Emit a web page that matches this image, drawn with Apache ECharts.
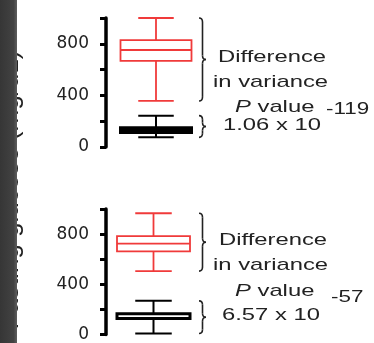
<!DOCTYPE html>
<html>
<head>
<meta charset="utf-8">
<script src="https://cdn.jsdelivr.net/npm/echarts@6/dist/echarts.min.js"></script>
<style>
html,body{margin:0;padding:0;background:#fff;}
#chart{width:374px;height:343px;}
</style>
</head>
<body>
<div id="chart"></div>
<script>
// ---- data ----
const category = ['Glucose'];
const yTicks = [0, 200, 400, 600, 800, 1000];
const yLabelsShown = [0, 400, 800];
// boxplot values: [min, Q1, median, Q3, max]
const topRed = [357, 667, 752, 829, 1000];
const topBlack = [75, 112, 132, 150, 243];
const bottomRed = [505, 662, 724, 784, 966];
const bottomBlack = [8, 127, 127, 166, 268];
const topNote = ['Difference', 'in variance', 'P value', '1.06 x 10', '-119'];
const bottomNote = ['Difference', 'in variance', 'P value', '6.57 x 10', '-57'];
const yTitle = 'Fasting glucose (mg/dL)';

const RED = '#f03a3a';
const INK = '#222';
const chart = echarts.init(document.getElementById('chart'), null, {renderer: 'canvas'});

function yAxis(gridIndex) {
  return {
    type: 'value', gridIndex: gridIndex,
    min: yTicks[0], max: yTicks[yTicks.length - 1], interval: yTicks[1] - yTicks[0],
    splitLine: {show: false},
    axisLine: {show: true, lineStyle: {color: '#000', width: 3.5}},
    axisTick: {show: true, length: 6, lineStyle: {color: '#000', width: 3}},
    axisLabel: {
      margin: 17, fontSize: 17, fontFamily: 'DejaVu Sans', color: INK,
      formatter: v => yLabelsShown.indexOf(v) >= 0 ? String(v) : ''
    }
  };
}
function xAxis(gridIndex) {
  return {type: 'category', gridIndex: gridIndex, data: category, show: false};
}
function box(vals, gi, w, color, fill, bw, wbw) {
  return {
    type: 'custom', xAxisIndex: gi, yAxisIndex: gi,
    data: [[0].concat(vals)],
    encode: {x: 0, y: [1, 2, 3, 4, 5]},
    silent: true,
    renderItem: function (params, api) {
      const x = api.coord([0, 0])[0];
      const y = [1, 2, 3, 4, 5].map(i => api.coord([0, api.value(i)])[1]);
      const h = w / 2, q = w / 4;
      const ls = {stroke: color, lineWidth: wbw};
      return {
        type: 'group',
        children: [
          {type: 'line', shape: {x1: x, y1: y[4], x2: x, y2: y[3]}, style: ls},
          {type: 'line', shape: {x1: x, y1: y[1], x2: x, y2: y[0]}, style: ls},
          {type: 'line', shape: {x1: x - q, y1: y[4], x2: x + q, y2: y[4]}, style: ls},
          {type: 'line', shape: {x1: x - q, y1: y[0], x2: x + q, y2: y[0]}, style: ls},
          {type: 'rect', shape: {x: x - h, y: y[3], width: w, height: y[1] - y[3]},
           style: {fill: fill, stroke: color, lineWidth: bw}},
          {type: 'line', shape: {x1: x - h, y1: y[2], x2: x + h, y2: y[2]}, style: {stroke: color, lineWidth: bw}}
        ]
      };
    }
  };
}

chart.setOption({
  animation: false,
  grid: [
    {left: 106, top: 18, width: 100, height: 129},
    {left: 106, top: 209, width: 95, height: 128}
  ],
  xAxis: [xAxis(0), xAxis(1)],
  yAxis: [yAxis(0), yAxis(1)],
  series: [
    box(topRed, 0, 71, RED, '#fff', 1.8, 1.8),
    box(topBlack, 0, 71, '#000', '#000', 3, 2),
    box(bottomRed, 1, 73, RED, '#fff', 1.8, 1.8),
    box(bottomBlack, 1, 73, '#000', '#fff', 3, 2)
  ]
});

const BR = {stroke: INK, lineWidth: 1.6, fill: null};
function brace(yi, lo, hi) {
  const y0 = chart.convertToPixel({yAxisIndex: yi}, hi);
  const y1 = chart.convertToPixel({yAxisIndex: yi}, lo);
  const x = 199, w = 7, xm = x + w / 2, ym = (y0 + y1) / 2;
  const r = Math.min(4, (y1 - y0) / 4);
  return {
    type: 'group', z: 10, silent: true,
    children: [
      {type: 'bezierCurve', shape: {x1: x, y1: y0, cpx1: xm, cpy1: y0, x2: xm, y2: y0 + r}, style: BR},
      {type: 'line', shape: {x1: xm, y1: y0 + r, x2: xm, y2: ym - r}, style: BR},
      {type: 'bezierCurve', shape: {x1: xm, y1: ym - r, cpx1: xm, cpy1: ym, x2: x + w, y2: ym}, style: BR},
      {type: 'bezierCurve', shape: {x1: x + w, y1: ym, cpx1: xm, cpy1: ym, x2: xm, y2: ym + r}, style: BR},
      {type: 'line', shape: {x1: xm, y1: ym + r, x2: xm, y2: y1 - r}, style: BR},
      {type: 'bezierCurve', shape: {x1: xm, y1: y1 - r, cpx1: xm, cpy1: y1, x2: x, y2: y1}, style: BR}
    ]
  };
}
const SX = 1.4;
function txt(text, x, y, size) {
  return {
    type: 'text', x: x, y: y, scaleX: SX, z: 10, silent: true,
    style: {text: text, fontSize: size, fontFamily: 'Liberation Sans', fill: INK,
            textAlign: 'left', textVerticalAlign: 'middle'}
  };
}
function pvalue(text, x, y) {
  const parts = text.split(' ');
  return {
    type: 'text', x: x, y: y, scaleX: SX, z: 10, silent: true,
    style: {
      text: '{i|' + parts[0] + '} ' + parts.slice(1).join(' '),
      fontSize: 17, fontFamily: 'Liberation Sans', fill: INK,
      textAlign: 'left', textVerticalAlign: 'middle',
      rich: {i: {fontStyle: 'italic', fontSize: 17, fontFamily: 'Liberation Sans', fill: INK}}
    }
  };
}
function note(arr, yi, red, black, ys, xs) {
  return [
    brace(yi, red[0], red[4]),
    brace(yi, black[0], black[4]),
    txt(arr[0], xs[0], ys[0], 17),
    txt(arr[1], xs[1], ys[1], 17),
    pvalue(arr[2], xs[2], ys[2]),
    txt(arr[3], xs[3], ys[3], 17),
    txt(arr[4], xs[4], ys[4], 16)
  ];
}

const graphics = []
  .concat(note(topNote, 0, topRed, topBlack, [57, 82, 107, 125, 110], [218, 213, 235, 223, 326]))
  .concat(note(bottomNote, 1, bottomRed, bottomBlack, [240, 265, 291, 315, 298], [219, 213, 235, 222, 331]))
  .concat([
    {type: 'text', x: 24, y: 190, rotation: Math.PI / 2, z: 1, silent: true,
     style: {text: yTitle, fontSize: 26, fontFamily: 'Liberation Sans', fill: INK,
             textAlign: 'center', textVerticalAlign: 'bottom'}},
    {type: 'rect', shape: {x: 0, y: 0, width: 17, height: 343}, z: 5, silent: true,
     style: {fill: {type: 'linear', x: 0, y: 0, x2: 1, y2: 0, colorStops: [
       {offset: 0, color: '#363636'}, {offset: 0.8, color: '#424242'}, {offset: 1, color: '#5e5e5e'}]}}}
  ]);

chart.setOption({graphic: graphics});
</script>
</body>
</html>
